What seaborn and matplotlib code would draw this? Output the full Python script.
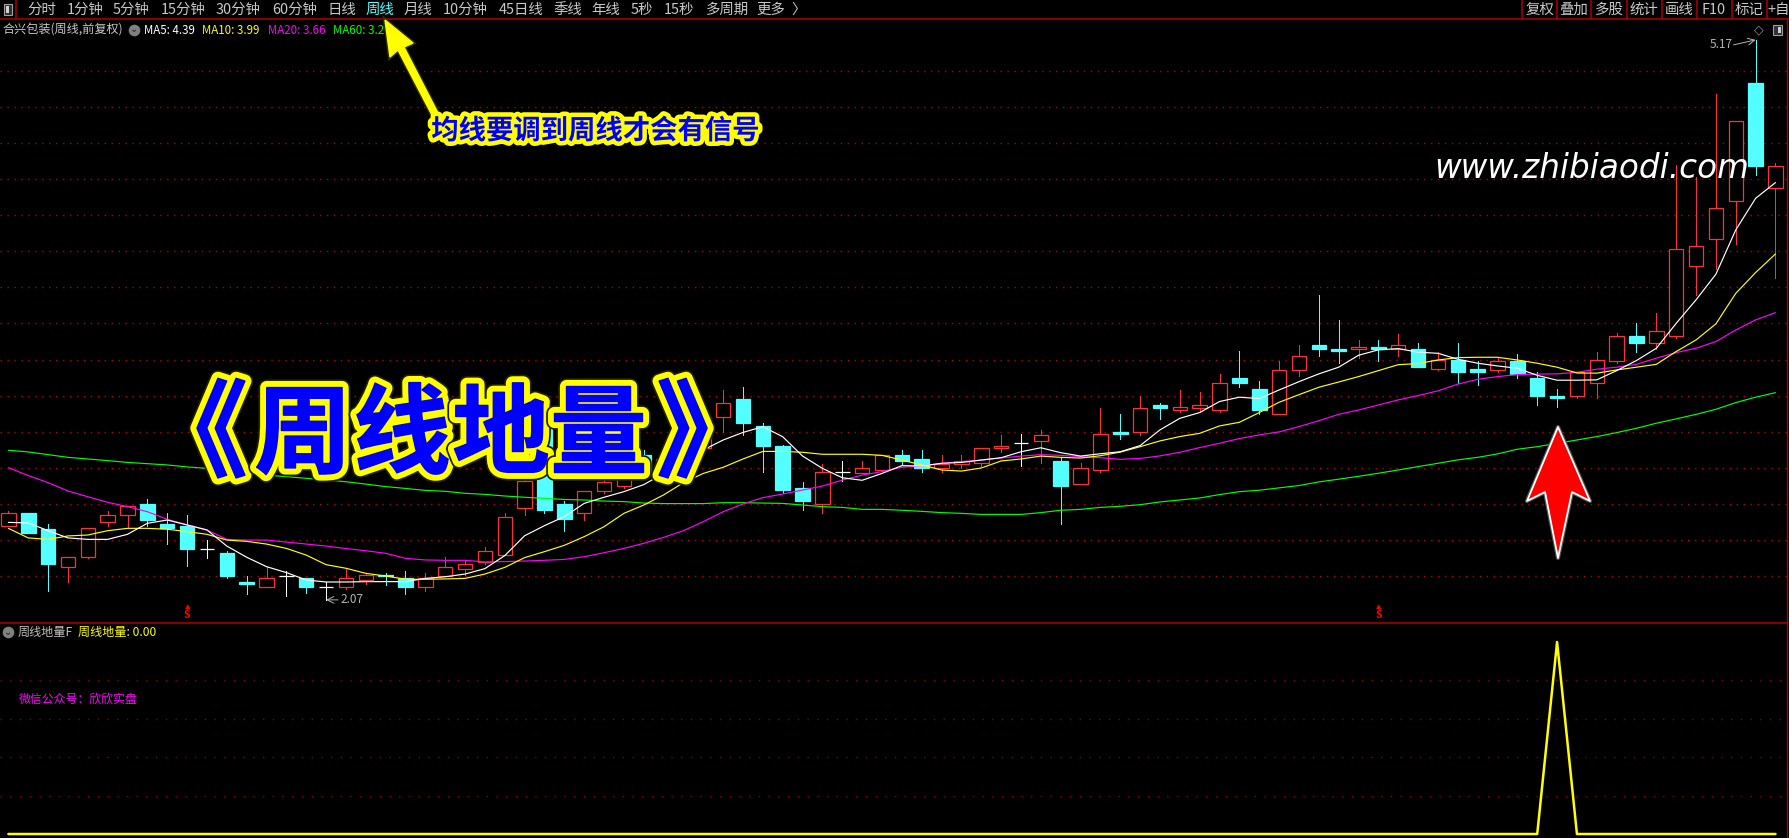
import matplotlib
matplotlib.use("Agg")
import matplotlib.pyplot as plt
import matplotlib.patheffects as pe
import pandas as pd
import seaborn as sns

# weekly candles
highs = [2.56, 2.55, 2.49, 2.31, 2.47, 2.56, 2.59, 2.63, 2.55, 2.54,
         2.40, 2.34, 2.20, 2.25, 2.23, 2.19, 2.17, 2.24, 2.22, 2.22,
         2.23, 2.22, 2.31, 2.29, 2.36, 2.55, 2.76, 3.04, 2.62, 2.67,
         2.74, 2.81, 2.90, 2.89, 3.00, 3.10, 3.23, 3.25, 3.05, 2.93,
         2.72, 2.82, 2.84, 2.84, 2.87, 2.90, 2.90, 2.87, 2.87, 2.91,
         2.98, 2.99, 3.01, 2.86, 2.83, 3.13, 3.10, 3.20, 3.16, 3.23,
         3.22, 3.32, 3.45, 3.28, 3.39, 3.48, 3.76, 3.62, 3.51, 3.51,
         3.54, 3.49, 3.44, 3.49, 3.39, 3.41, 3.43, 3.33, 3.24, 3.33,
         3.44, 3.55, 3.60, 3.66, 4.48, 4.41, 4.87, 4.72, 5.17, 4.49]
opens = [2.48, 2.55, 2.46, 2.25, 2.31, 2.50, 2.54, 2.60, 2.49, 2.48,
         2.35, 2.33, 2.17, 2.14, 2.20, 2.19, 2.14, 2.14, 2.18, 2.21,
         2.19, 2.14, 2.20, 2.24, 2.28, 2.32, 2.58, 3.02, 2.60, 2.55,
         2.67, 2.70, 2.87, 2.76, 2.80, 2.91, 3.08, 3.18, 3.03, 2.92,
         2.69, 2.60, 2.78, 2.77, 2.79, 2.87, 2.85, 2.80, 2.82, 2.83,
         2.91, 2.94, 2.95, 2.84, 2.71, 2.79, 3.00, 3.00, 3.15, 3.12,
         3.13, 3.12, 3.30, 3.24, 3.10, 3.34, 3.48, 3.46, 3.46, 3.47,
         3.46, 3.46, 3.35, 3.40, 3.35, 3.34, 3.39, 3.30, 3.20, 3.20,
         3.27, 3.39, 3.53, 3.49, 3.53, 3.92, 4.07, 4.28, 4.93, 4.35]
closes = [2.55, 2.44, 2.27, 2.31, 2.47, 2.54, 2.59, 2.51, 2.47, 2.35,
          2.35, 2.20, 2.16, 2.19, 2.20, 2.14, 2.14, 2.19, 2.21, 2.20,
          2.14, 2.19, 2.25, 2.27, 2.34, 2.53, 2.73, 2.57, 2.52, 2.67,
          2.72, 2.78, 2.76, 2.85, 2.97, 3.08, 3.16, 3.05, 2.92, 2.68,
          2.62, 2.78, 2.78, 2.80, 2.87, 2.84, 2.80, 2.82, 2.84, 2.91,
          2.92, 2.94, 2.98, 2.70, 2.80, 2.99, 2.99, 3.13, 3.13, 3.14,
          3.15, 3.27, 3.27, 3.12, 3.34, 3.42, 3.46, 3.45, 3.47, 3.46,
          3.48, 3.36, 3.40, 3.33, 3.33, 3.39, 3.32, 3.20, 3.19, 3.33,
          3.40, 3.53, 3.49, 3.56, 4.01, 4.03, 4.24, 4.72, 4.47, 4.47]
lows = [2.48, 2.44, 2.12, 2.17, 2.30, 2.48, 2.47, 2.48, 2.38, 2.26,
        2.30, 2.19, 2.10, 2.14, 2.09, 2.11, 2.07, 2.13, 2.16, 2.15,
        2.10, 2.12, 2.20, 2.21, 2.27, 2.32, 2.54, 2.55, 2.45, 2.51,
        2.66, 2.69, 2.75, 2.72, 2.73, 2.88, 3.00, 2.98, 2.78, 2.66,
        2.57, 2.55, 2.73, 2.77, 2.79, 2.82, 2.78, 2.78, 2.80, 2.81,
        2.89, 2.81, 2.83, 2.49, 2.71, 2.78, 2.96, 2.98, 3.07, 3.11,
        3.11, 3.11, 3.25, 3.10, 3.10, 3.31, 3.42, 3.38, 3.41, 3.39,
        3.42, 3.36, 3.34, 3.27, 3.26, 3.33, 3.30, 3.15, 3.14, 3.19,
        3.19, 3.38, 3.44, 3.46, 3.52, 3.76, 3.90, 4.04, 4.42, 3.85]

# moving averages
ma5 = [2.499, 2.496, 2.453, 2.413, 2.405, 2.405, 2.433, 2.494, 2.512, 2.485,
       2.457, 2.368, 2.306, 2.254, 2.221, 2.180, 2.169, 2.169, 2.171, 2.171,
       2.171, 2.189, 2.198, 2.213, 2.243, 2.315, 2.425, 2.481, 2.531, 2.604,
       2.638, 2.669, 2.708, 2.770, 2.826, 2.900, 2.955, 2.997, 3.029, 2.973,
       2.866, 2.798, 2.746, 2.732, 2.770, 2.813, 2.811, 2.826, 2.831, 2.844,
       2.857, 2.890, 2.912, 2.885, 2.866, 2.879, 2.890, 2.924, 3.011, 3.075,
       3.107, 3.168, 3.192, 3.184, 3.232, 3.278, 3.321, 3.358, 3.424, 3.454,
       3.461, 3.441, 3.435, 3.402, 3.380, 3.365, 3.352, 3.313, 3.286, 3.286,
       3.288, 3.339, 3.395, 3.463, 3.601, 3.731, 3.873, 4.118, 4.293, 4.380]
ma10 = [2.466, 2.413, 2.405, 2.424, 2.429, 2.453, 2.466, 2.466, 2.461, 2.448,
        2.433, 2.401, 2.394, 2.379, 2.355, 2.318, 2.265, 2.245, 2.217, 2.202,
        2.184, 2.184, 2.186, 2.189, 2.213, 2.250, 2.304, 2.337, 2.372, 2.420,
        2.475, 2.549, 2.595, 2.651, 2.719, 2.770, 2.804, 2.850, 2.892, 2.892,
        2.887, 2.876, 2.876, 2.876, 2.870, 2.844, 2.817, 2.789, 2.783, 2.800,
        2.839, 2.850, 2.866, 2.859, 2.855, 2.868, 2.888, 2.918, 2.950, 2.974,
        2.992, 3.033, 3.053, 3.107, 3.164, 3.206, 3.247, 3.276, 3.306, 3.339,
        3.372, 3.378, 3.398, 3.411, 3.413, 3.413, 3.398, 3.380, 3.358, 3.326,
        3.325, 3.343, 3.358, 3.374, 3.445, 3.509, 3.598, 3.767, 3.882, 3.985]
ma20 = [2.802, 2.758, 2.719, 2.673, 2.641, 2.610, 2.586, 2.558, 2.516, 2.485,
        2.457, 2.405, 2.401, 2.401, 2.390, 2.379, 2.368, 2.354, 2.342, 2.328,
        2.300, 2.291, 2.289, 2.289, 2.280, 2.282, 2.285, 2.289, 2.294, 2.309,
        2.331, 2.355, 2.383, 2.416, 2.453, 2.503, 2.558, 2.601, 2.636, 2.656,
        2.678, 2.700, 2.733, 2.761, 2.780, 2.804, 2.811, 2.826, 2.835, 2.844,
        2.855, 2.866, 2.874, 2.870, 2.863, 2.857, 2.848, 2.853, 2.867, 2.887,
        2.913, 2.937, 2.963, 2.983, 3.000, 3.029, 3.062, 3.097, 3.121, 3.149,
        3.177, 3.201, 3.227, 3.264, 3.291, 3.306, 3.317, 3.320, 3.321, 3.330,
        3.347, 3.358, 3.374, 3.408, 3.439, 3.463, 3.500, 3.564, 3.620, 3.660]
ma60 = [2.898, 2.889, 2.874, 2.859, 2.850, 2.841, 2.831, 2.824, 2.817, 2.806,
        2.798, 2.783, 2.770, 2.761, 2.752, 2.743, 2.734, 2.724, 2.711, 2.697,
        2.687, 2.676, 2.671, 2.660, 2.654, 2.645, 2.638, 2.632, 2.626, 2.623,
        2.617, 2.614, 2.606, 2.603, 2.603, 2.603, 2.608, 2.608, 2.606, 2.604,
        2.595, 2.586, 2.582, 2.571, 2.571, 2.566, 2.560, 2.553, 2.549, 2.543,
        2.543, 2.543, 2.553, 2.566, 2.571, 2.582, 2.588, 2.597, 2.612, 2.623,
        2.634, 2.653, 2.669, 2.677, 2.690, 2.703, 2.723, 2.738, 2.754, 2.771,
        2.789, 2.808, 2.826, 2.845, 2.859, 2.878, 2.904, 2.918, 2.937, 2.955,
        2.974, 2.996, 3.020, 3.048, 3.072, 3.097, 3.125, 3.162, 3.192, 3.217]

# lower panel indicator, fires once at week 78
signal = [0.0] * 78 + [1.0] + [0.0] * 11
s_marks = [9, 69]

price_grid = [5.0, 4.8, 4.6, 4.4, 4.2, 4.0, 3.8, 3.6, 3.4, 3.2, 3.0, 2.8, 2.6, 2.4, 2.2]
signal_grid = [0.2, 0.4, 0.6, 0.8]

tabs = [("分时", 42), ("1分钟", 85), ("5分钟", 131), ("15分钟", 183), ("30分钟", 238),
        ("60分钟", 295), ("日线", 342), ("周线", 380), ("月线", 418), ("10分钟", 465),
        ("45日线", 521), ("季线", 568), ("年线", 606), ("5秒", 642), ("15秒", 679),
        ("多周期", 727), ("更多", 771), ("〉", 798)]
right_tabs = [("复权", 1540), ("叠加", 1574), ("多股", 1609), ("统计", 1644),
              ("画线", 1679), ("F10", 1714), ("标记", 1749), ("+自", 1779)]
tab_seps = [1522, 1557, 1591, 1627, 1662, 1697, 1732, 1767]

title_chars = [("《", 195, 76), ("周", 303, 70), ("线", 402, 70), ("地", 501, 70), ("量", 598, 70), ("》", 709, 76)]

CJK = ["Noto Sans CJK SC", "DejaVu Sans"]
RED = "#FF3232"
CYAN = "#54FFFF"
DARKRED = "#B00000"

sns.set_theme(style="dark", rc={"axes.facecolor": "black", "figure.facecolor": "black",
                                "savefig.facecolor": "black"})
plt.rcParams["font.family"] = CJK
plt.rcParams["axes.unicode_minus"] = False

W, H = 1789, 838
fig = plt.figure(figsize=(W / 100, H / 100), dpi=100)

# main price panel
ax = fig.add_axes([0, (H - 623) / H, 1787 / W, 603 / H])
ax.set_xlim(-0.423, 89.58)
ax.set_ylim(1.942, 5.280)
ax.set_xticks([])
ax.set_yticks(price_grid)
ax.tick_params(left=False, labelleft=False)
ax.grid(False)
ax.hlines(price_grid, -0.423, 89.58, colors=DARKRED, linestyles=(0, (1, 4)), linewidth=1, zorder=1)

weeks = list(range(len(highs)))
candles = pd.DataFrame({"week": weeks, "high": highs, "open": opens, "close": closes, "low": lows})
candles["bottom"] = candles[["open", "close"]].min(axis=1)
candles["top"] = candles[["open", "close"]].max(axis=1)


def candle_color(row):
    if row["close"] > row["open"]:
        return RED
    if row["close"] < row["open"]:
        return CYAN
    return "white"


candles["color"] = candles.apply(candle_color, axis=1)
ax.vlines(candles["week"], candles["low"], candles["high"], colors=candles["color"],
          linewidth=0.72, zorder=2, antialiased=False)
faces = ["black" if c == RED else c for c in candles["color"]]
ax.bar(candles["week"], candles["top"] - candles["bottom"], bottom=candles["bottom"], width=0.73,
       color=faces, edgecolor=candles["color"], linewidth=0.9, zorder=3)

ma_df = pd.DataFrame({"week": weeks, "MA5": ma5, "MA10": ma10, "MA20": ma20, "MA60": ma60})
ma_long = ma_df.melt(id_vars="week", var_name="ma", value_name="price")
# draw order as in the picture, green at the back
sns.lineplot(data=ma_long, x="week", y="price", hue="ma", hue_order=["MA60", "MA20", "MA10", "MA5"],
             palette={"MA5": "white", "MA10": "#FFFF00", "MA20": "#FF00FF", "MA60": "#00FF00"},
             estimator=None, linewidth=0.85, legend=False, ax=ax, zorder=4)
ax.set_xlabel("")
ax.set_ylabel("")

ax.annotate("5.17", xy=(88, 5.17), xytext=(-46, -5), textcoords="offset pixels", color="#B4B4B4",
            fontsize=8.5, va="center", zorder=6)
ax.annotate("", xy=(88, 5.17), xytext=(-22, -5), textcoords="offset pixels", zorder=6,
            arrowprops=dict(arrowstyle="->", color="#B4B4B4", lw=0.7, shrinkA=0, shrinkB=0))
ax.annotate("2.07", xy=(16, 2.07), xytext=(14, 0), textcoords="offset pixels", color="#B4B4B4",
            fontsize=8.5, va="center", zorder=6)
ax.annotate("", xy=(16, 2.07), xytext=(12, 0), textcoords="offset pixels", zorder=6,
            arrowprops=dict(arrowstyle="->", color="#B4B4B4", lw=0.7, shrinkA=0, shrinkB=0))

for s in s_marks:
    ax.annotate("S", xy=(s, 1.942), xytext=(0, 3), textcoords="offset pixels", color="#FF0000",
                fontsize=7.5, fontweight="bold", ha="center", va="bottom", zorder=6)
    ax.annotate("▲", xy=(s, 1.942), xytext=(0, 13), textcoords="offset pixels", color="#FF0000",
                fontsize=4, ha="center", va="bottom", zorder=6)

# lower indicator panel
ax2 = fig.add_axes([0, 0, 1787 / W, (H - 623) / H])
ax2.set_xlim(-0.423, 89.58)
ax2.set_ylim(-0.0208, 1.099)
ax2.set_xticks([])
ax2.set_yticks([])
ax2.grid(False)
ax2.hlines(signal_grid, -0.423, 89.58, colors="#800000", linestyles=(0, (1, 6)), linewidth=1, zorder=1)
sig_df = pd.DataFrame({"week": weeks, "signal": signal})
sns.lineplot(data=sig_df, x="week", y="signal", color="#FFFF00", linewidth=1.8, estimator=None, ax=ax2, zorder=3)
ax2.set_xlabel("")
ax2.set_ylabel("")

for a in (ax, ax2):
    for name, sp in a.spines.items():
        sp.set_visible(name == "right")
        sp.set_color(DARKRED)
        sp.set_linewidth(1)

# overlay in pixel coordinates for the toolbar, legends and pasted-on captions
ov = fig.add_axes([0, 0, 1, 1], zorder=10)
ov.set_xlim(0, W)
ov.set_ylim(H, 0)
ov.axis("off")
ov.patch.set_alpha(0)

ov.plot([0, W], [19.5, 19.5], color=DARKRED, lw=1.1)
ov.plot([0, 1787], [623, 623], color=DARKRED, lw=1.1)
ov.plot([16, 16], [0, 19.5], color=DARKRED, lw=1.1)
for sx in tab_seps:
    ov.plot([sx, sx], [0, 19.5], color=DARKRED, lw=1.1)
ov.add_patch(plt.Rectangle((4, 4), 8, 11, fc="#303030", ec="#A0A0A0", lw=0.8))
ov.add_patch(plt.Rectangle((6, 6), 3, 7, fc="#D0D0D0", ec="none"))

for label, cx in tabs + right_tabs:
    col = CYAN if label == "周线" else "#C8C8C8"
    ov.text(cx, 10, label, color=col, fontsize=10.4, ha="center", va="center")

ov.text(3, 30, "合兴包装(周线,前复权)", color="#C8C8C8", fontsize=8.7, va="center")
ov.scatter([134], [30], s=70, color="#808080", linewidths=0)
ov.text(134, 29.5, "⌄", color="#202020", fontsize=7, ha="center", va="center", family="DejaVu Sans")
ov.text(144, 30, "MA5: 4.39", color="white", fontsize=8.3, va="center")
ov.text(202.5, 30, "MA10: 3.99", color="#FFFF00", fontsize=8.3, va="center")
ov.text(268, 30, "MA20: 3.66", color="#FF00FF", fontsize=8.3, va="center")
ov.text(333, 30, "MA60: 3.2", color="#00FF00", fontsize=8.3, va="center")

ov.text(1759, 30, "◇", color="#909090", fontsize=9, ha="center", va="center", family="DejaVu Sans")
ov.add_patch(plt.Rectangle((1773, 25), 9, 10, fc="#303030", ec="#A0A0A0", lw=0.8))
ov.add_patch(plt.Rectangle((1778, 27), 3, 6, fc="#D0D0D0", ec="none"))

ov.scatter([8], [632], s=70, color="#808080", linewidths=0)
ov.text(8, 631.5, "⌄", color="#202020", fontsize=7, ha="center", va="center", family="DejaVu Sans")
ov.text(18, 632, "周线地量F", color="#C0C0C0", fontsize=8.7, va="center")
ov.text(78, 632, "周线地量: 0.00", color="#FFFF00", fontsize=8.7, va="center")
ov.text(19, 699, "微信公众号：欣欣实盘", color="#FF00FF", fontsize=8.6, va="center")

# yellow pointer to the weekly tab
ov.fill([385, 413, 404, 439, 433, 398, 390], [20, 43, 47, 115, 117, 50, 57],
        color="#FFFF00", path_effects=[pe.Stroke(linewidth=3, foreground="#303000"), pe.Normal()], zorder=3)

ov.text(595.5, 131, "均线要调到周线才会有信号", color="#0000FF", fontsize=19.7, fontweight="bold",
        ha="center", va="center", zorder=5,
        path_effects=[pe.Stroke(linewidth=6.5, foreground="#FFFF00"), pe.Normal()])

for ch, cx, fs in title_chars:
    ov.text(cx, 437, ch, color="#0000FF", fontsize=fs, fontweight="bold", ha="center", va="center",
            zorder=5, path_effects=[pe.Stroke(linewidth=12, foreground="#202000"),
                                    pe.Stroke(linewidth=9.5, foreground="#FFFF00"),
                                    pe.Stroke(linewidth=1, foreground="#0000FF"), pe.Normal()])

ov.text(1592, 168, "www.zhibiaodi.com", color="white", fontsize=23.5, style="italic", ha="center", va="center",
        family="DejaVu Sans", zorder=5)

# red signal arrow
ov.fill([1558, 1590, 1572, 1558, 1545, 1527], [427, 501, 492, 558, 492, 501], facecolor="#FF0000",
        edgecolor="white", lw=1.3, joinstyle="round", zorder=5,
        path_effects=[pe.Stroke(linewidth=3, foreground="#505050"), pe.Normal()])

fig.savefig("out.png", dpi=100, facecolor="black")
